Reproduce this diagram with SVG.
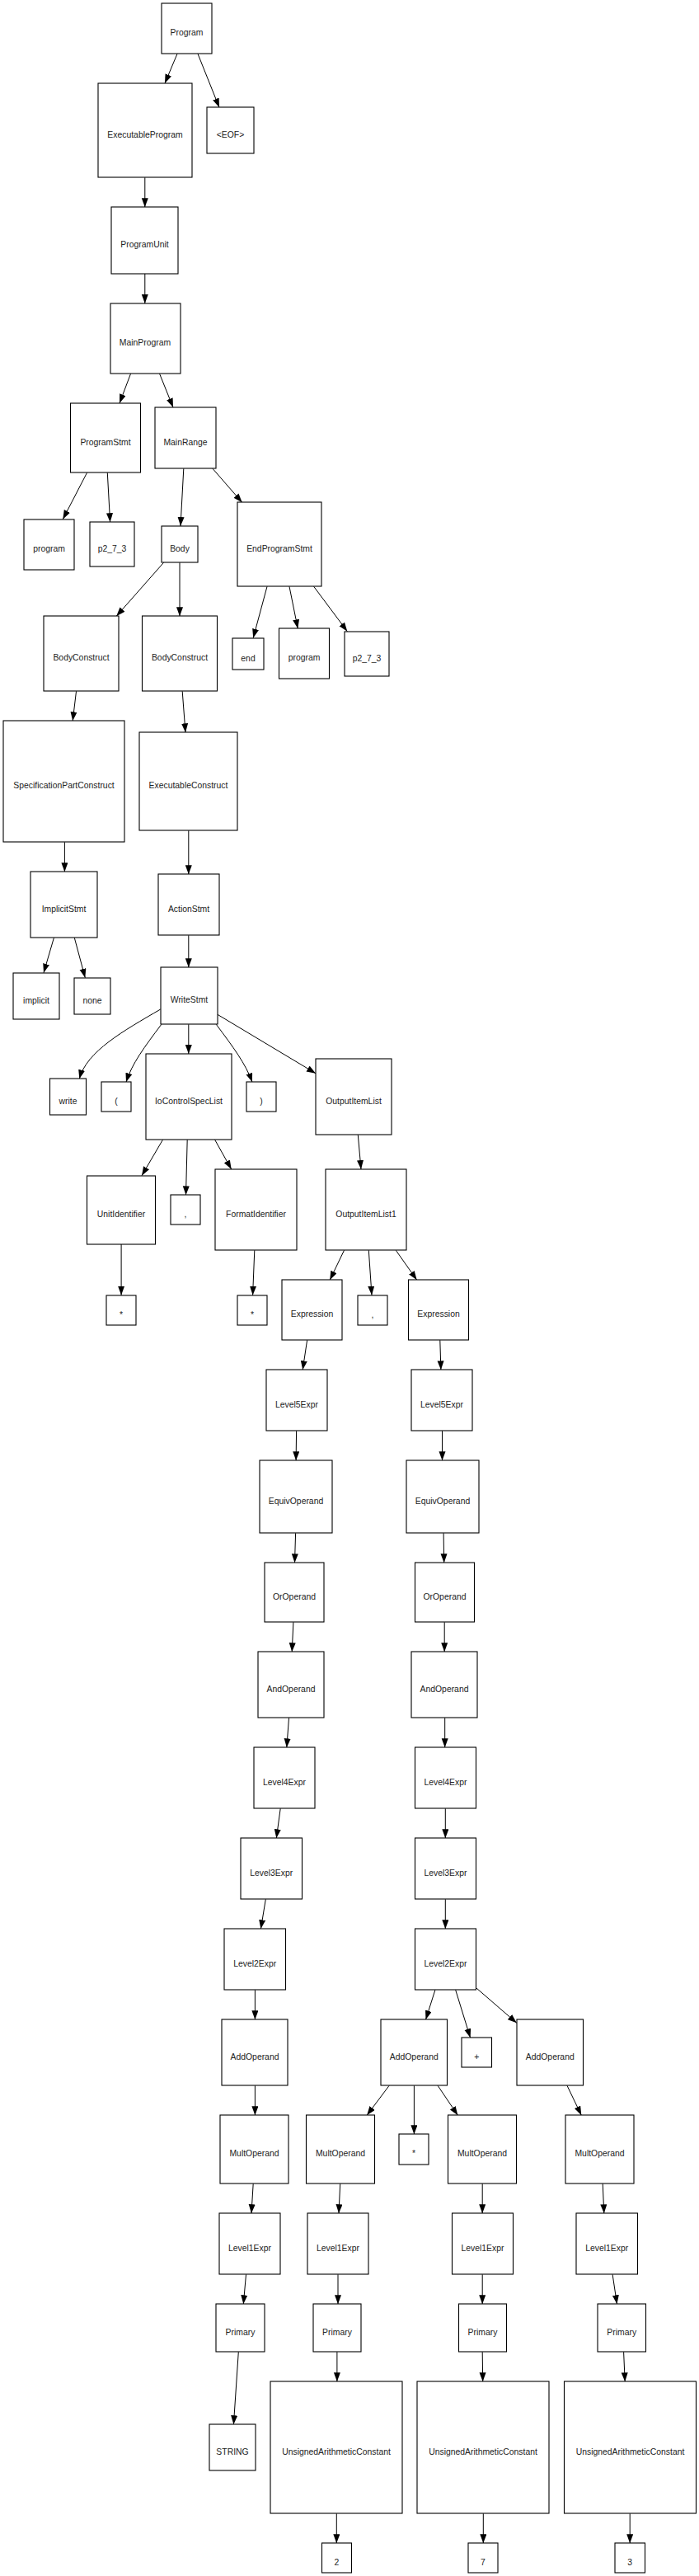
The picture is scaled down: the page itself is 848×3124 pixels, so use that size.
<svg xmlns="http://www.w3.org/2000/svg" width="848" height="3124" viewBox="0 0 848 3124">
<style>
.n rect{fill:#fff;stroke:#000;stroke-width:1.1}
.n text{font-family:"Liberation Sans",Arial,sans-serif;font-size:10.4px;fill:#222;text-anchor:middle}
#edges path{fill:none;stroke:#000;stroke-width:1;marker-end:url(#ah)}
</style>
<defs>
<marker id="ah" markerUnits="userSpaceOnUse" markerWidth="12" markerHeight="9" refX="11" refY="4" orient="auto">
<path d="M0,0 L11,4 L0,8 z" fill="#000"/>
</marker>
</defs>
<rect width="848" height="3124" fill="#fff"/>
<g id="edges">
<path d="M215,65.3 L200,101"/>
<path d="M240,65.3 L266,130.3"/>
<path d="M175.8,215.3 L175.8,251.3"/>
<path d="M175.8,332 L175.8,368"/>
<path d="M158.5,453.3 L145,489"/>
<path d="M193.6,453.3 L210,494"/>
<path d="M105.5,573.3 L76.3,629.7"/>
<path d="M130.3,573.3 L133.6,633.3"/>
<path d="M222.8,568.3 L219,638"/>
<path d="M258,568.3 L293.7,609.3"/>
<path d="M198.5,682.3 L141.2,747.3"/>
<path d="M218,682.3 L218,747.3"/>
<path d="M324,711.3 L307.2,773.7"/>
<path d="M351,711.3 L361.3,762.3"/>
<path d="M380.7,711.3 L421.3,765.7"/>
<path d="M92.5,838.3 L88.2,874.3"/>
<path d="M221.2,838.3 L225,888.3"/>
<path d="M78.4,1021.3 L78.4,1057.3"/>
<path d="M228.8,1007.3 L228.8,1060.3"/>
<path d="M65.4,1137.3 L53,1179.7"/>
<path d="M90.3,1137.3 L103.3,1185.7"/>
<path d="M228.8,1134.3 L228.8,1173.3"/>
<path d="M194.7,1224 C150,1250 105,1275 96.3,1308.3"/>
<path d="M195.8,1242.3 C175,1270 160,1290 153,1312.3"/>
<path d="M228.8,1242.3 L228.8,1278"/>
<path d="M262.3,1242.3 C283,1270 298,1290 306,1312.3"/>
<path d="M263.4,1230 L383,1301.7"/>
<path d="M197.4,1382.3 L172,1425.7"/>
<path d="M227.2,1382.3 L225.5,1449.3"/>
<path d="M260.7,1382.3 L280.7,1418"/>
<path d="M434.3,1376.3 L438,1418"/>
<path d="M147.1,1509 L147.1,1570.7"/>
<path d="M308.8,1516.3 L306.6,1570.7"/>
<path d="M417.5,1516.3 L400.2,1552.3"/>
<path d="M447.3,1516.3 L451,1570.7"/>
<path d="M480.3,1516.3 L505.7,1552.3"/>
<path d="M372.6,1625.3 L367.2,1661.3"/>
<path d="M533.8,1625.3 L534.9,1661.3"/>
<path d="M359.6,1735.3 L359.1,1771.3"/>
<path d="M536.5,1735.3 L536.5,1771.3"/>
<path d="M358.6,1859.3 L357.5,1895.3"/>
<path d="M538.1,1859.3 L538.7,1895.3"/>
<path d="M355.9,1967.3 L354.2,2003.3"/>
<path d="M539.2,1967.3 L539.2,2003.3"/>
<path d="M350.5,2083.3 L347.8,2119.3"/>
<path d="M539.7,2083.3 L539.7,2119.3"/>
<path d="M340.2,2193.3 L335.3,2229.3"/>
<path d="M540.3,2193.3 L540.3,2229.3"/>
<path d="M322.3,2303.3 L316.4,2339.3"/>
<path d="M540.3,2303.3 L540.3,2339.3"/>
<path d="M309.4,2413.3 L309.4,2449.3"/>
<path d="M527.9,2413.3 L516.5,2449.3"/>
<path d="M552.7,2413.3 L570.6,2471.3"/>
<path d="M577.6,2410.7 L626.8,2453.3"/>
<path d="M309.4,2529.3 L309.4,2565.3"/>
<path d="M472.1,2529.3 L445.1,2565.3"/>
<path d="M502.4,2529.3 L502.4,2588.3"/>
<path d="M531.1,2529.3 L555.4,2565.3"/>
<path d="M688,2529.3 L705.3,2565.3"/>
<path d="M307.2,2648.3 L305,2684.3"/>
<path d="M412.7,2648.3 L411,2684.3"/>
<path d="M585.2,2648.3 L585.2,2684.3"/>
<path d="M731.2,2648.3 L732.8,2684.3"/>
<path d="M298.5,2758.3 L295.3,2794.3"/>
<path d="M410,2758.3 L410,2794.3"/>
<path d="M585.2,2758.3 L585.2,2794.3"/>
<path d="M743.1,2758.3 L748.5,2794.3"/>
<path d="M289.3,2852.3 L283.4,2940.3"/>
<path d="M408.9,2852.3 L408.9,2888.3"/>
<path d="M585.2,2852.3 L585.7,2888.3"/>
<path d="M756.6,2852.3 L758.2,2888.3"/>
<path d="M408.3,3048.3 L408.3,3084.3"/>
<path d="M586.3,3048.3 L586.3,3084.3"/>
<path d="M764.2,3048.3 L764.2,3084.3"/>
</g>
<g id="n1" class="n"><rect x="196" y="4" width="61" height="61"/><text x="226.5" y="43">Program</text></g>
<g id="n2" class="n"><rect x="119" y="101" width="114" height="114"/><text x="176" y="166.5">ExecutableProgram</text></g>
<g id="n3" class="n"><rect x="251" y="130" width="57" height="56"/><text x="279.5" y="166.5">&lt;EOF&gt;</text></g>
<g id="n4" class="n"><rect x="135" y="251" width="81" height="81"/><text x="175.5" y="300">ProgramUnit</text></g>
<g id="n5" class="n"><rect x="134" y="368" width="85" height="85"/><text x="176" y="419">MainProgram</text></g>
<g id="n6" class="n"><rect x="85.5" y="489" width="85" height="84"/><text x="128" y="539.5">ProgramStmt</text></g>
<g id="n7" class="n"><rect x="188" y="494" width="74" height="74"/><text x="225" y="539.5">MainRange</text></g>
<g id="n8" class="n"><rect x="29" y="630" width="61" height="61"/><text x="59.5" y="669">program</text></g>
<g id="n9" class="n"><rect x="109" y="633" width="54" height="54"/><text x="136" y="668.5">p2_7_3</text></g>
<g id="n10" class="n"><rect x="196" y="638" width="44" height="44"/><text x="218" y="668.5">Body</text></g>
<g id="n11" class="n"><rect x="288" y="609" width="102" height="102"/><text x="339" y="668.5">EndProgramStmt</text></g>
<g id="n12" class="n"><rect x="53" y="747" width="91" height="91"/><text x="98.5" y="801">BodyConstruct</text></g>
<g id="n13" class="n"><rect x="172.5" y="747" width="91" height="91"/><text x="218" y="801">BodyConstruct</text></g>
<g id="n14" class="n"><rect x="282" y="774" width="38" height="38"/><text x="301" y="801.5">end</text></g>
<g id="n15" class="n"><rect x="338.5" y="762" width="61" height="61"/><text x="369" y="801">program</text></g>
<g id="n16" class="n"><rect x="418" y="766" width="54" height="54"/><text x="445" y="801.5">p2_7_3</text></g>
<g id="n17" class="n"><rect x="4" y="874" width="147" height="147"/><text x="77.5" y="956">SpecificationPartConstruct</text></g>
<g id="n18" class="n"><rect x="169" y="888" width="119" height="119"/><text x="228.5" y="956">ExecutableConstruct</text></g>
<g id="n19" class="n"><rect x="37" y="1057" width="81" height="80"/><text x="77.5" y="1105.5">ImplicitStmt</text></g>
<g id="n20" class="n"><rect x="192" y="1060" width="74" height="74"/><text x="229" y="1105.5">ActionStmt</text></g>
<g id="n21" class="n"><rect x="16" y="1180" width="56" height="56"/><text x="44" y="1216.5">implicit</text></g>
<g id="n22" class="n"><rect x="90" y="1186" width="44" height="44"/><text x="112" y="1216.5">none</text></g>
<g id="n23" class="n"><rect x="195" y="1173" width="69" height="69"/><text x="229.5" y="1216">WriteStmt</text></g>
<g id="n24" class="n"><rect x="60.5" y="1308" width="44" height="44"/><text x="82.5" y="1338.5">write</text></g>
<g id="n25" class="n"><rect x="123" y="1312" width="36" height="36"/><text x="141" y="1338.5">(</text></g>
<g id="n26" class="n"><rect x="177" y="1278" width="104" height="104"/><text x="229" y="1338.5">IoControlSpecList</text></g>
<g id="n27" class="n"><rect x="299" y="1312" width="36" height="36"/><text x="317" y="1338.5">)</text></g>
<g id="n28" class="n"><rect x="383" y="1284" width="92" height="92"/><text x="429" y="1338.5">OutputItemList</text></g>
<g id="n29" class="n"><rect x="105.5" y="1426" width="83" height="83"/><text x="147" y="1476">UnitIdentifier</text></g>
<g id="n30" class="n"><rect x="207" y="1449" width="36" height="36"/><text x="225" y="1475.5">,</text></g>
<g id="n31" class="n"><rect x="261" y="1418" width="99" height="98"/><text x="310.5" y="1475.5">FormatIdentifier</text></g>
<g id="n32" class="n"><rect x="395" y="1418" width="98" height="98"/><text x="444" y="1475.5">OutputItemList1</text></g>
<g id="n33" class="n"><rect x="129" y="1571" width="36" height="36"/><text x="147" y="1597.5">*</text></g>
<g id="n34" class="n"><rect x="288" y="1571" width="36" height="36"/><text x="306" y="1597.5">*</text></g>
<g id="n35" class="n"><rect x="342" y="1552" width="73" height="73"/><text x="378.5" y="1597">Expression</text></g>
<g id="n36" class="n"><rect x="434" y="1571" width="36" height="36"/><text x="452" y="1597.5">,</text></g>
<g id="n37" class="n"><rect x="495.5" y="1552" width="73" height="73"/><text x="532" y="1597">Expression</text></g>
<g id="n38" class="n"><rect x="323" y="1661" width="74" height="74"/><text x="360" y="1706.5">Level5Expr</text></g>
<g id="n39" class="n"><rect x="499" y="1661" width="74" height="74"/><text x="536" y="1706.5">Level5Expr</text></g>
<g id="n40" class="n"><rect x="315" y="1771" width="88" height="88"/><text x="359" y="1823.5">EquivOperand</text></g>
<g id="n41" class="n"><rect x="493" y="1771" width="88" height="88"/><text x="537" y="1823.5">EquivOperand</text></g>
<g id="n42" class="n"><rect x="321" y="1895" width="72" height="72"/><text x="357" y="1939.5">OrOperand</text></g>
<g id="n43" class="n"><rect x="503.5" y="1895" width="72" height="72"/><text x="539.5" y="1939.5">OrOperand</text></g>
<g id="n44" class="n"><rect x="313" y="2003" width="80" height="80"/><text x="353" y="2051.5">AndOperand</text></g>
<g id="n45" class="n"><rect x="499" y="2003" width="80" height="80"/><text x="539" y="2051.5">AndOperand</text></g>
<g id="n46" class="n"><rect x="308" y="2119" width="74" height="74"/><text x="345" y="2164.5">Level4Expr</text></g>
<g id="n47" class="n"><rect x="503.5" y="2119" width="74" height="74"/><text x="540.5" y="2164.5">Level4Expr</text></g>
<g id="n48" class="n"><rect x="292" y="2229" width="74.5" height="74"/><text x="329.25" y="2274.5">Level3Expr</text></g>
<g id="n49" class="n"><rect x="503.5" y="2229" width="74" height="74"/><text x="540.5" y="2274.5">Level3Expr</text></g>
<g id="n50" class="n"><rect x="272" y="2339" width="74.5" height="74"/><text x="309.25" y="2384.5">Level2Expr</text></g>
<g id="n51" class="n"><rect x="503.5" y="2339" width="74" height="74"/><text x="540.5" y="2384.5">Level2Expr</text></g>
<g id="n52" class="n"><rect x="269" y="2449" width="80" height="80"/><text x="309" y="2497.5">AddOperand</text></g>
<g id="n53" class="n"><rect x="462" y="2449" width="80.5" height="80"/><text x="502.25" y="2497.5">AddOperand</text></g>
<g id="n54" class="n"><rect x="560" y="2471" width="36.5" height="36"/><text x="578.25" y="2497.5">+</text></g>
<g id="n55" class="n"><rect x="627" y="2449" width="80.5" height="80"/><text x="667.25" y="2497.5">AddOperand</text></g>
<g id="n56" class="n"><rect x="267" y="2565" width="83" height="83"/><text x="308.5" y="2615">MultOperand</text></g>
<g id="n57" class="n"><rect x="371.5" y="2565" width="83" height="83"/><text x="413" y="2615">MultOperand</text></g>
<g id="n58" class="n"><rect x="484" y="2588" width="36" height="37"/><text x="502" y="2615">*</text></g>
<g id="n59" class="n"><rect x="543.5" y="2565" width="83" height="83"/><text x="585" y="2615">MultOperand</text></g>
<g id="n60" class="n"><rect x="686" y="2565" width="83" height="83"/><text x="727.5" y="2615">MultOperand</text></g>
<g id="n61" class="n"><rect x="266" y="2684" width="74" height="74"/><text x="303" y="2729.5">Level1Expr</text></g>
<g id="n62" class="n"><rect x="373" y="2684" width="74" height="74"/><text x="410" y="2729.5">Level1Expr</text></g>
<g id="n63" class="n"><rect x="548.5" y="2684" width="74" height="74"/><text x="585.5" y="2729.5">Level1Expr</text></g>
<g id="n64" class="n"><rect x="699" y="2684" width="74.5" height="74"/><text x="736.25" y="2729.5">Level1Expr</text></g>
<g id="n65" class="n"><rect x="262" y="2794" width="59" height="58"/><text x="291.5" y="2831.5">Primary</text></g>
<g id="n66" class="n"><rect x="380" y="2794" width="58" height="58"/><text x="409" y="2831.5">Primary</text></g>
<g id="n67" class="n"><rect x="556.5" y="2794" width="58" height="58"/><text x="585.5" y="2831.5">Primary</text></g>
<g id="n68" class="n"><rect x="725" y="2794" width="58.5" height="58"/><text x="754.25" y="2831.5">Primary</text></g>
<g id="n69" class="n"><rect x="254" y="2940" width="56" height="56"/><text x="282" y="2976.5">STRING</text></g>
<g id="n70" class="n"><rect x="328" y="2888" width="160" height="160"/><text x="408" y="2976.5">UnsignedArithmeticConstant</text></g>
<g id="n71" class="n"><rect x="506" y="2888" width="160" height="160"/><text x="586" y="2976.5">UnsignedArithmeticConstant</text></g>
<g id="n72" class="n"><rect x="684.5" y="2888" width="160" height="160"/><text x="764.5" y="2976.5">UnsignedArithmeticConstant</text></g>
<g id="n73" class="n"><rect x="390.5" y="3084" width="36" height="36"/><text x="408.5" y="3110.5">2</text></g>
<g id="n74" class="n"><rect x="568" y="3084" width="36" height="36"/><text x="586" y="3110.5">7</text></g>
<g id="n75" class="n"><rect x="746" y="3084" width="36.5" height="36"/><text x="764.25" y="3110.5">3</text></g>
</svg>
